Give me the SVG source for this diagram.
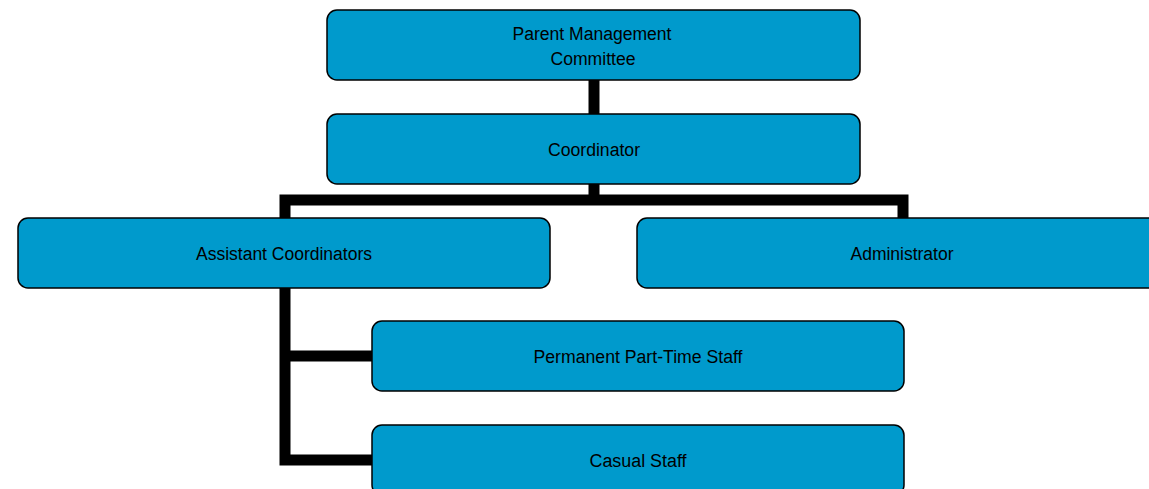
<svg xmlns="http://www.w3.org/2000/svg" width="1149" height="489" viewBox="0 0 1149 489">
<style>
.box{fill:#009acc;stroke:#000;stroke-width:1.5}
.lbl{font-family:"Liberation Sans",Arial,sans-serif;font-size:18px;fill:#000;text-anchor:middle}
.con{fill:none;stroke:#000;stroke-width:11;stroke-linejoin:miter;stroke-linecap:butt}
</style>
<rect width="1149" height="489" fill="#fff"/>
<g id="connectors">
<path class="con" d="M594,80 V114"/>
<path class="con" d="M594,184 V200 M285,218 V200 H903 V218"/>
<path class="con" d="M285,288 V460 H372 M285,356 H372"/>
</g>
<g id="n-pmc">
<rect class="box" x="327" y="10" width="533" height="70" rx="10"/>
<text class="lbl" x="592" y="40" textLength="159" lengthAdjust="spacingAndGlyphs">Parent Management</text>
<text class="lbl" x="593" y="65" textLength="85" lengthAdjust="spacingAndGlyphs">Committee</text>
</g>
<g id="n-coord">
<rect class="box" x="327" y="114" width="533" height="70" rx="10"/>
<text class="lbl" x="594" y="156" textLength="92" lengthAdjust="spacingAndGlyphs">Coordinator</text>
</g>
<g id="n-assist">
<rect class="box" x="18" y="218" width="532" height="70" rx="10"/>
<text class="lbl" x="284" y="260" textLength="176" lengthAdjust="spacingAndGlyphs">Assistant Coordinators</text>
</g>
<g id="n-admin">
<rect class="box" x="637" y="218" width="531" height="70" rx="10"/>
<text class="lbl" x="902" y="260" textLength="103" lengthAdjust="spacingAndGlyphs">Administrator</text>
</g>
<g id="n-ppt">
<rect class="box" x="372" y="321" width="532" height="70" rx="10"/>
<text class="lbl" x="638" y="363" textLength="209" lengthAdjust="spacingAndGlyphs">Permanent Part-Time Staff</text>
</g>
<g id="n-casual">
<rect class="box" x="372" y="425" width="532" height="70" rx="10"/>
<text class="lbl" x="638" y="467" textLength="97" lengthAdjust="spacingAndGlyphs">Casual Staff</text>
</g>
</svg>
